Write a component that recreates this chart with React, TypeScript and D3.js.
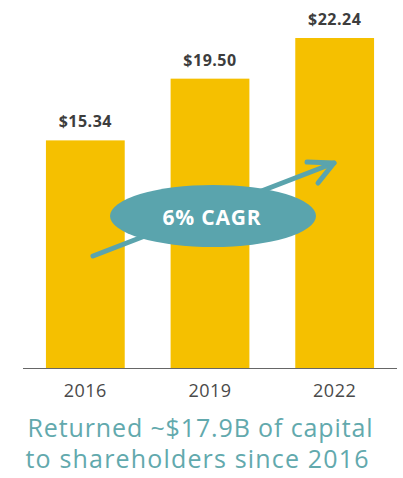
import React from "react";
import * as d3 from "d3";

const years = ["2016", "2019", "2022"];
const values = [15.34, 19.5, 22.24];
const valueLabels = ["$15.34", "$19.50", "$22.24"];
const cagrLabel = "6% CAGR";
const footnote = ["Returned ~$17.9B of capital", "to shareholders since 2016"];

const W = 403;
const H = 478;

export default function App() {
  const x = d3.scaleBand<string>().domain(years).range([23, 397]).paddingInner(0.368).paddingOuter(0.184);
  const y = d3.scaleLinear().domain([0, 22.24]).range([368, 38]);
  const teal = "#5aa4ad";
  const yellow = "#f5c000";
  const footX = [200, 197];
  const footLen = [345, 343];
  return (
    <svg width={W} height={H} style={{ position: "absolute", left: 0, top: 0, background: "#fff" }}>
      {years.map((yr, i) => (
        <g key={yr}>
          <rect x={x(yr)} y={y(values[i])} width={x.bandwidth()} height={y(0) - y(values[i])} fill={yellow} />
          <text x={(x(yr) as number) + x.bandwidth() / 2} y={y(values[i]) - 13} textAnchor="middle"
            fontFamily="'Open Sans', sans-serif" fontWeight={700} fontSize={16} letterSpacing={0.5} fill="#3d3d3d">{valueLabels[i]}</text>
          <text x={(x(yr) as number) + x.bandwidth() / 2} y={397} textAnchor="middle"
            fontFamily="'Open Sans', sans-serif" fontSize={18} letterSpacing={0.5} fill="#4a4a4a">{yr}</text>
        </g>
      ))}
      <line x1={23} x2={397} y1={368.5} y2={368.5} stroke="#666" strokeWidth={1} />
      <g stroke={teal} strokeWidth={5} strokeLinecap="round" fill="none">
        <line x1={93} y1={256} x2={334} y2={163} />
        <polyline points="307,162 334,163 318,183" strokeLinejoin="round" />
      </g>
      <ellipse cx={213} cy={216} rx={103} ry={31} fill={teal} />
      <text x={212} y={225} textAnchor="middle" fontFamily="'Open Sans', sans-serif" fontWeight={700}
        fontSize={21} letterSpacing={0.8} fill="#fff">{cagrLabel}</text>
      {footnote.map((t, i) => (
        <text key={i} x={footX[i]} y={437 + i * 31} textAnchor="middle" fontFamily="'Open Sans', sans-serif"
          fontSize={25} fill="#62a9ad" textLength={footLen[i]} lengthAdjust="spacing">{t}</text>
      ))}
    </svg>
  );
}
